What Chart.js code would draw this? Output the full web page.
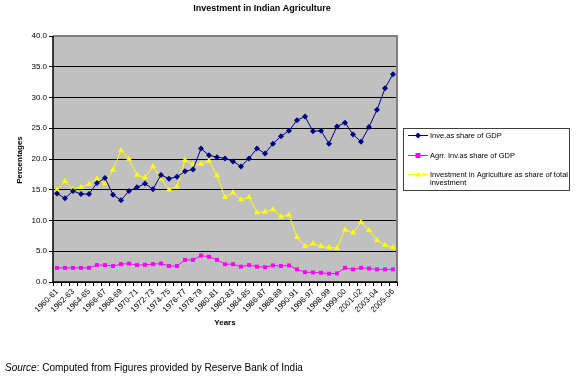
<!DOCTYPE html>
<html>
<head>
<meta charset="utf-8">
<script src="https://cdn.jsdelivr.net/npm/chart.js@4/dist/chart.umd.min.js"></script>
<style>
  html, body { margin: 0; padding: 0; background: #fff; }
  #wrap { position: relative; width: 576px; height: 382px; }
</style>
</head>
<body>
<div id="wrap"><canvas id="chart" width="576" height="382"></canvas></div>
<script>
// categories (one per year; every other one is labelled)
const years = [
  '1960-61','1961-62','1962-63','1963-64','1964-65','1965-66','1966-67','1967-68',
  '1968-69','1969-70','1970-71','1971-72','1972-73','1973-74','1974-75','1975-76',
  '1976-77','1977-78','1978-79','1979-80','1980-81','1981-82','1982-83','1983-84',
  '1984-85','1985-86','1986-87','1987-88','1988-89','1989-90','1990-91','1995-96',
  '1996-97','1997-98','1998-99','1998-99','1999-00','2000-01','2001-02','2002-03',
  '2003-04','2004-05','2005-06'
];

const invGdp = [
  14.4, 13.6, 14.8, 14.3, 14.3, 16.1, 16.9, 14.2, 13.3, 14.8, 15.4, 16.0, 15.1, 17.4, 16.8,
  17.1, 18.0, 18.3, 21.7, 20.6, 20.3, 20.1, 19.6, 18.8, 20.1, 21.7, 20.9, 22.5, 23.7, 24.6,
  26.3, 26.9, 24.5, 24.6, 22.5, 25.3, 25.9, 24.0, 22.8, 25.2, 28.0, 31.5, 33.8
];

const agrInvGdp = [
  2.3, 2.3, 2.3, 2.3, 2.3, 2.75, 2.75, 2.6, 2.9, 3.0, 2.75, 2.8, 2.9, 3.0, 2.6,
  2.6, 3.6, 3.6, 4.3, 4.1, 3.6, 2.9, 2.9, 2.5, 2.75, 2.5, 2.4, 2.7, 2.6, 2.7,
  2.05, 1.6, 1.55, 1.5, 1.35, 1.4, 2.3, 2.05, 2.3, 2.2, 2.05, 2.05, 2.05
];

const agrShareInv = [
  15.0, 16.4, 15.1, 15.4, 15.9, 16.8, 16.0, 18.2, 21.4, 20.0, 17.4, 17.0, 18.8, 16.8, 15.0,
  15.5, 19.8, 19.1, 19.2, 19.7, 17.3, 13.8, 14.5, 13.4, 13.8, 11.3, 11.4, 11.8, 10.6, 10.9,
  7.3, 5.8, 6.2, 5.8, 5.6, 5.5, 8.5, 8.0, 9.7, 8.4, 6.8, 6.0, 5.6
];

const seriesNames = [
  'Inve.as share of GDP',
  'Agrr. Inv.as share of GDP',
  'Investment in Agriculture as share of total investment'
];

const FONT = '"Liberation Sans", Arial, sans-serif';

const decor = {
  id: 'decor',
  beforeDraw(chart) {
    const { ctx, chartArea: a } = chart;
    ctx.save();
    ctx.fillStyle = '#c0c0c0';
    ctx.fillRect(a.left, a.top, a.right - a.left, a.bottom - a.top);
    ctx.restore();
  },
  beforeDatasetsDraw(chart) {
    const { ctx, chartArea: a } = chart;
    ctx.save();
    ctx.strokeStyle = '#808080';
    ctx.lineWidth = 2;
    ctx.beginPath();
    ctx.moveTo(a.left, a.top);
    ctx.lineTo(a.right, a.top);
    ctx.lineTo(a.right, a.bottom);
    ctx.stroke();
    ctx.strokeStyle = '#000';
    ctx.lineWidth = 1.5;
    ctx.beginPath();
    ctx.moveTo(a.left, a.top);
    ctx.lineTo(a.left, a.bottom);
    ctx.lineTo(a.right, a.bottom);
    ctx.stroke();
    ctx.restore();
  },
  afterDraw(chart) {
    const { ctx } = chart;
    ctx.save();
    ctx.fillStyle = '#000';
    ctx.textBaseline = 'middle';

    // title
    ctx.font = 'bold 9px ' + FONT;
    ctx.textAlign = 'center';
    ctx.fillText('Investment in Indian Agriculture', 262, 9);

    // axis titles
    ctx.font = 'bold 8px ' + FONT;
    ctx.fillText('Years', 225, 323);
    ctx.save();
    ctx.translate(20, 160);
    ctx.rotate(-Math.PI / 2);
    ctx.fillText('Percentages', 0, 0);
    ctx.restore();

    // legend
    const lx = 403, ly = 128, lw = 166, lh = 62;
    ctx.fillStyle = '#fff';
    ctx.fillRect(lx, ly, lw, lh);
    ctx.strokeStyle = '#404040';
    ctx.lineWidth = 1;
    ctx.strokeRect(lx + 0.5, ly + 0.5, lw, lh);
    const rows = [135, 155, 174];
    ctx.font = '7.5px ' + FONT;
    ctx.textAlign = 'left';
    chart.data.datasets.forEach((ds, i) => {
      const y = rows[i] + 0.5;
      ctx.strokeStyle = ds.borderColor;
      ctx.lineWidth = 1;
      ctx.beginPath();
      ctx.moveTo(lx + 5, y);
      ctx.lineTo(lx + 25, y);
      ctx.stroke();
      ctx.fillStyle = ds.backgroundColor;
      ctx.beginPath();
      if (ds.pointStyle === 'rectRot') {
        ctx.moveTo(lx + 15, y - 3); ctx.lineTo(lx + 18, y); ctx.lineTo(lx + 15, y + 3); ctx.lineTo(lx + 12, y);
      } else if (ds.pointStyle === 'rect') {
        ctx.rect(lx + 12.5, y - 2.5, 5, 5);
      } else {
        ctx.moveTo(lx + 15, y - 3); ctx.lineTo(lx + 18, y + 2); ctx.lineTo(lx + 12, y + 2);
      }
      ctx.closePath();
      ctx.fill();
      ctx.fillStyle = '#000';
      if (i === 2) {
        ctx.fillText('Investment in Agriculture as share of total', lx + 27, y);
        ctx.fillText('investment', lx + 27, y + 8.5);
      } else {
        ctx.fillText(ds.label, lx + 27, y);
      }
    });

    // source note
    ctx.fillStyle = '#000';
    ctx.textAlign = 'left';
    ctx.font = 'italic 10px ' + FONT;
    ctx.fillText('Source', 5, 368);
    const w = ctx.measureText('Source').width;
    ctx.font = '10px ' + FONT;
    ctx.fillText(': Computed from Figures provided by Reserve Bank of India', 5 + w, 368);
    ctx.restore();
  }
};

new Chart(document.getElementById('chart'), {
  type: 'line',
  data: {
    labels: years,
    datasets: [
      { label: seriesNames[0], data: invGdp, borderColor: '#000080', backgroundColor: '#000080',
        pointStyle: 'rectRot', pointRadius: 3, borderWidth: 1, pointBorderWidth: 0 },
      { label: seriesNames[1], data: agrInvGdp, borderColor: '#ff00ff', backgroundColor: '#ff00ff',
        pointStyle: 'rect', pointRadius: 2.8, borderWidth: 1, pointBorderWidth: 0 },
      { label: seriesNames[2], data: agrShareInv, borderColor: '#ffff00', backgroundColor: '#ffff00',
        pointStyle: 'triangle', pointRadius: 3.5, borderWidth: 1, pointBorderWidth: 0 }
    ]
  },
  options: {
    responsive: false,
    animation: false,
    layout: { padding: { left: 0, right: 179, top: 36, bottom: 0 } },
    plugins: { legend: { display: false }, title: { display: false }, tooltip: { enabled: false } },
    elements: { line: { tension: 0 } },
    scales: {
      x: {
        offset: true,
        grid: { display: true, drawOnChartArea: false, drawTicks: true, tickLength: 4, color: '#000', offset: true },
        border: { display: false },
        ticks: {
          autoSkip: false, minRotation: 45, maxRotation: 45, padding: 1,
          color: '#000', font: { family: FONT, size: 8 },
          callback(v, i) { return i % 2 ? '' : this.getLabelForValue(v); }
        },
        afterFit(s) { s.height = 100; }
      },
      y: {
        min: 0, max: 40,
        grid: { color: '#000', lineWidth: 1, tickLength: 4 },
        border: { display: false },
        ticks: {
          stepSize: 5, padding: 2, color: '#000', font: { family: FONT, size: 8 },
          callback: v => v.toFixed(1)
        },
        afterFit(s) { s.width = 53; }
      }
    }
  },
  plugins: [decor]
});
</script>
</body>
</html>
